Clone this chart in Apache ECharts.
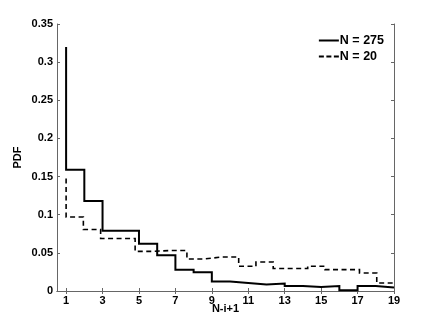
<!DOCTYPE html>
<html><head><meta charset="utf-8">
<script src="https://cdn.jsdelivr.net/npm/echarts@6/dist/echarts.min.js"></script>
<style>html,body{margin:0;padding:0;background:#fff}#c{width:436px;height:327px}</style>
</head><body><div id="c"></div>
<script>
const xTicks = [1, 3, 5, 7, 9, 11, 13, 15, 17, 19];
const yTicks = [0, 0.05, 0.1, 0.15, 0.2, 0.25, 0.3, 0.35];
const legendNames = ['N = 275', 'N = 20'];
const xSolid = [1, 1, 2, 3, 4, 5, 6, 7, 8, 9, 10, 11, 12, 13, 14, 15, 16, 17, 18, 19];
const ySolid = [0.32, 0.159, 0.118, 0.079, 0.079, 0.062, 0.047, 0.028, 0.0245, 0.0123, 0.0105, 0.0084, 0.0097, 0.0066, 0.0052, 0.0066, 0.001, 0.0066, 0.0045, 0.0045];
const xDashed = [1, 1, 1.947, 2.895, 3.842, 4.789, 5.737, 6.684, 7.632, 8.579, 9.526, 10.474, 11.421, 12.368, 13.316, 14.263, 15.211, 16.158, 17.105, 18.053, 19];
const yDashed = [0.1475, 0.097, 0.0806, 0.0688, 0.0688, 0.052, 0.053, 0.053, 0.042, 0.0445, 0.0445, 0.0324, 0.038, 0.0294, 0.0294, 0.0324, 0.028, 0.028, 0.0236, 0.0105, 0.0105];

const pair = (xs, ys) => xs.map((x, i) => [x, ys[i]]);
const axisColor = '#666';
const font = 'Liberation Sans, Arial, Helvetica, sans-serif';
const chart = echarts.init(document.getElementById('c'), null, {renderer: 'canvas'});
chart.setOption({
  animation: false,
  backgroundColor: '#fff',
  grid: {left: 57, right: 42, top: 24, bottom: 36},
  legend: {
    orient: 'vertical', right: 47, top: 29, itemGap: 3, itemWidth: 20, itemHeight: 2,
    data: [
      {name: legendNames[0], icon: 'path://M0,0H20V2H0Z'},
      {name: legendNames[1], icon: 'path://M0,0H5V2H0Z M7.5,0H12.5V2H7.5Z M15,0H20V2H15Z'}
    ],
    itemStyle: {color: '#000', borderWidth: 0},
    textStyle: {fontFamily: font, fontWeight: 'bold', fontSize: 12.5, color: '#000', lineHeight: 12, padding: [0, 0, 0, -4]}
  },
  xAxis: [{
    type: 'value', min: 0.5, max: 19, position: 'bottom',
    name: 'N-i+1', nameLocation: 'middle', nameGap: 12, nameMoveOverlap: false,
    nameTextStyle: {fontFamily: font, fontWeight: 'bold', fontSize: 11, color: '#000'},
    axisLine: {show: true, lineStyle: {color: axisColor, width: 1}},
    axisTick: {show: true, inside: true, length: 3, customValues: xTicks, lineStyle: {color: axisColor}},
    axisLabel: {customValues: xTicks, fontFamily: font, fontWeight: 'bold', fontSize: 11, color: '#000', margin: 4},
    splitLine: {show: false}
  }, {
    type: 'value', min: 0.5, max: 19, position: 'top',
    axisLine: {show: true, lineStyle: {color: axisColor, width: 1}},
    axisTick: {show: true, inside: true, length: 3, customValues: xTicks, lineStyle: {color: axisColor}},
    axisLabel: {show: false}, splitLine: {show: false}
  }],
  yAxis: [{
    type: 'value', min: 0, max: 0.35, interval: 0.05, position: 'left',
    name: 'PDF', nameLocation: 'middle', nameGap: 34, nameRotate: 90, nameMoveOverlap: false,
    nameTextStyle: {fontFamily: font, fontWeight: 'bold', fontSize: 11, color: '#000'},
    axisLine: {show: true, lineStyle: {color: axisColor, width: 1}},
    axisTick: {show: true, inside: true, length: 3, lineStyle: {color: axisColor}},
    axisLabel: {fontFamily: font, fontWeight: 'bold', fontSize: 11, color: '#000', margin: 4,
      formatter: v => String(yTicks.find(t => Math.abs(t - v) < 1e-9) ?? v)},
    splitLine: {show: false}
  }, {
    type: 'value', min: 0, max: 0.35, interval: 0.05, position: 'right',
    axisLine: {show: true, lineStyle: {color: axisColor, width: 1}},
    axisTick: {show: true, inside: true, length: 3, lineStyle: {color: axisColor}},
    axisLabel: {show: false}, splitLine: {show: false}
  }],
  series: [{
    name: legendNames[0], type: 'line', step: 'end', symbol: 'none',
    xAxisIndex: 0, yAxisIndex: 0,
    lineStyle: {color: '#000', width: 2, type: 'solid', cap: 'butt', join: 'miter'},
    itemStyle: {color: '#000'},
    data: pair(xSolid, ySolid), z: 3
  }, {
    name: legendNames[1], type: 'line', step: 'end', symbol: 'none',
    xAxisIndex: 0, yAxisIndex: 0,
    lineStyle: {color: '#000', width: 1.6, type: [5, 3.5], cap: 'butt', join: 'miter'},
    itemStyle: {color: '#000'},
    data: pair(xDashed, yDashed), z: 2
  }]
});
</script></body></html>
